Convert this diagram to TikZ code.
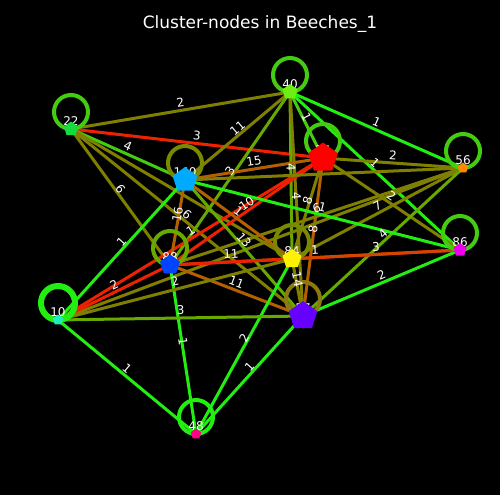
\documentclass[tikz,border=0pt]{standalone}
\usepackage{fontspec}
\setmainfont{DejaVu Sans}
\usetikzlibrary{shapes.geometric}
\pgfdeclarelayer{bg}
\pgfdeclarelayer{mid}
\pgfsetlayers{bg,mid,main}
\definecolor{cBG}{RGB}{34,238,17}
\definecolor{cGR}{RGB}{68,204,17}
\definecolor{cMG}{RGB}{102,170,0}
\definecolor{cOL}{RGB}{128,128,0}
\definecolor{cBR}{RGB}{178,96,0}
\definecolor{cRD}{RGB}{238,34,0}
\definecolor{cOR}{RGB}{210,70,0}
\definecolor{cLO}{RGB}{122,138,0}
\definecolor{cPO}{RGB}{140,122,16}
\begin{document}
\begin{tikzpicture}[x=1pt,y=-1pt,
  pent/.style={regular polygon, regular polygon sides=5, inner sep=0pt, draw=none},
  elab/.style={text=white, font=\fontsize{12}{14}\selectfont, inner sep=0pt},
  nlab/.style={text=white, font=\fontsize{12}{14}\selectfont, inner sep=0pt},
  edge/.style={line width=3pt},
  selfloop/.style={line width=4pt}]
\begin{pgfonlayer}{bg}
\fill[black] (0,0) rectangle (500,495);
\end{pgfonlayer}
\node[text=white, font=\fontsize{17}{20}\selectfont] (title) at (260,24) {Cluster-nodes in Beeches\_1};
% nodes
\node[pent, minimum size=16pt, fill={rgb,255:red,110;green,238;blue,20}] (n40) at (290,92) {};
\node[pent, minimum size=15pt, fill={rgb,255:red,20;green,220;blue,60}] (n22) at (71,129) {};
\node[pent, minimum size=26pt, fill={rgb,255:red,0;green,170;blue,255}] (n140) at (185,180) {};
\node[pent, minimum size=31pt, fill=red] (nR) at (323,158) {};
\node[pent, minimum size=11pt, fill={rgb,255:red,255;green,136;blue,0}] (n56) at (463,168) {};
\node[pent, minimum size=14pt, fill={rgb,255:red,238;green,0;blue,238}] (n86) at (460,250) {};
\node[pent, minimum size=21pt, fill={rgb,255:red,0;green,68;blue,255}] (n88) at (170,265) {};
\node[pent, minimum size=20pt, fill=yellow] (n84) at (292,259) {};
\node[pent, minimum size=30pt, fill={rgb,255:red,102;green,0;blue,255}] (nP) at (303,316) {};
\node[pent, minimum size=11pt, fill={rgb,255:red,30;green,238;blue,190}] (n10) at (58,320) {};
\node[pent, minimum size=11pt, fill={rgb,255:red,255;green,0;blue,136}] (n48) at (196,434) {};
\def\EdgeList{n22/n40/cOL/2, n22/nR/cRD/3, n22/n140/cGR/4, n22/n88/cOL/6, n22/n84/cOL/{}, n22/nP/cOL/6,
 n40/n140/cOL/11, n40/nR/cGR/1, n40/n56/cBG/1, n40/n86/cBG/1, n40/n84/cMG/4, n40/nP/cOL/4, n40/n88/cMG/3,
 nR/n56/cOL/2, nR/n86/cOL/2, nR/n140/cBR/15, nR/n88/cRD/10, nR/n10/cRD/1, nR/n84/cOL/8, nR/nP/cBR/8,
 n56/n140/cOL/{}, n56/n84/cOL/7, n56/nP/cMG/4, n56/n88/cOL/6, n56/n10/cOL/{},
 n86/n140/cBG/1, n86/n84/cRD/3, n86/nP/cBG/2, n86/n88/cOR/1,
 n140/n88/cBR/16, n140/n84/cBR/1, n140/nP/cMG/13, n140/n10/cBG/1,
 n88/n84/cRD/11, n88/nP/cBR/11, n88/n10/cRD/2, n88/n48/cBG/1,
 n84/nP/cOL/14, n84/n48/cBG/2, nP/n48/cBG/1, n10/nP/cMG/3, n10/n84/cOL/2, n10/n48/cBG/1}
\begin{pgfonlayer}{bg}
\foreach \a/\b/\c/\t in \EdgeList {\draw[edge, \c] (\a.center) -- (\b.center);}
% self loops
\foreach \n/\c/\w in {n22/cGR/4, n40/cGR/4, n140/cLO/4, nR/cGR/4, n56/cGR/4, n86/cGR/4, n88/cMG/4, n84/cLO/4, nP/cPO/4, n10/cBG/6, n48/cBG/4}
  {\draw[line width=\w pt, \c] ([yshift=17pt]\n.center) circle (17pt);}
\end{pgfonlayer}
\begin{pgfonlayer}{mid}
\foreach \a/\b/\c/\t in \EdgeList {\path ([yshift=8pt]\a.center) -- ([yshift=8pt]\b.center) node[elab, midway, sloped] {\t};}
\foreach \n/\t in {n22/22, n40/40, n140/140, nR/54, n56/56, n86/86, n88/88, n84/84, nP/57, n10/10, n48/48}
  {\node[nlab] (l\n) at ([yshift=8pt]\n.center) {\t};}
\end{pgfonlayer}
\end{tikzpicture}
\end{document}
